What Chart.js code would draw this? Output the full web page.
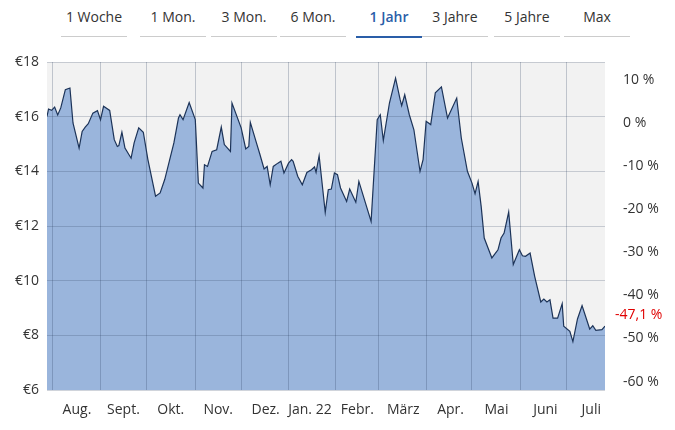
<!DOCTYPE html>
<html><head><meta charset="utf-8">
<script src="https://cdn.jsdelivr.net/npm/chart.js@4"></script>
<style>
body{margin:0;width:675px;height:430px;background:#fff;font-family:"Open Sans",sans-serif;overflow:hidden}
#tabs{position:absolute;top:0;left:0;width:675px;height:40px}
.tab{position:absolute;top:6px;height:30px;font-size:14px;color:#333;text-align:center;border-bottom:1px solid #ccc;line-height:22px}
.tab.act{color:#2a5ea8;font-weight:600;border-bottom:2px solid #2a5ea8}
#wrap{position:absolute;top:40px;left:0;width:675px;height:390px}
</style></head><body>
<div id="tabs"></div>
<div id="wrap"><canvas id="c"></canvas></div>
<script>
const tabLabels=["1 Woche","1 Mon.","3 Mon.","6 Mon.","1 Jahr","3 Jahre","5 Jahre","Max"];
const tabCenters=[94,173,244,313,389,455,527,597];
const activeTab="1 Jahr";
const days=[0,1,3,5,7,9,12,15,17,21,23,25,27,30,33,35,37,41,44,46,47,49,51,55,57,60,63,66,71,74,77,83,86,87,89,93,97,99,102,103,105,108,111,114,116,120,121,127,130,132,133,137,139,142,144,146,148,151,153,155,158,160,161,164,167,170,173,175,176,178,182,184,186,188,190,192,196,198,202,204,212,216,218,220,224,228,231,232,234,237,240,244,246,248,251,254,258,262,268,271,275,278,280,282,284,286,291,295,297,299,302,305,309,311,313,316,319,323,325,327,329,331,334,337,338,342,344,347,350,355,357,359,363,365];
const prices=[16.01,16.28,16.23,16.35,16.06,16.32,16.99,17.05,15.77,14.85,15.46,15.62,15.74,16.13,16.22,15.89,16.38,16.23,15.16,14.91,14.94,15.43,14.85,14.48,15.04,15.59,15.43,14.43,13.09,13.21,13.70,15.04,15.95,16.07,15.89,16.52,15.89,13.57,13.39,14.24,14.18,14.73,14.79,15.62,14.98,14.73,16.50,15.59,14.82,14.91,15.79,15.04,14.67,14.09,14.18,13.51,14.18,14.30,14.37,13.94,14.30,14.43,14.37,13.82,13.51,13.96,14.06,14.16,13.96,14.57,12.50,13.33,13.35,13.94,13.88,13.39,12.90,13.35,12.87,13.63,12.17,15.89,16.07,15.13,16.50,17.41,16.62,16.40,16.80,16.07,15.52,14.00,14.43,15.83,15.71,16.87,17.09,15.95,16.68,15.22,14.00,13.57,13.18,13.63,12.72,11.56,10.83,11.13,11.56,11.74,12.51,10.59,11.13,10.91,10.89,11.01,10.16,9.22,9.33,9.22,9.30,8.63,8.63,9.16,8.33,8.15,7.77,8.60,9.09,8.23,8.35,8.18,8.21,8.34];
const monthStarts=[3.6,35,65,97,127,158,189,217,248,278,310,340];
const monthLabelDays=[19.6,50,81,112,143,172,203,233,264,294,326,356];
const monthLabels=["Aug.","Sept.","Okt.","Nov.","Dez.","Jan. 22","Febr.","März","Apr.","Mai","Juni","Juli"];
const priceTicks=[6,8,10,12,14,16,18];
const pctTicks=[-60,-50,-40,-30,-20,-10,0,10];
const basePrice=15.77;
const lastPct=-47.1;

const tabs=document.getElementById('tabs');
tabLabels.forEach((t,i)=>{const d=document.createElement('div');d.className='tab'+(t===activeTab?' act':'');d.textContent=t;d.style.left=(tabCenters[i]-33)+'px';d.style.width='66px';tabs.appendChild(d);});

const FONT={family:"'Open Sans', sans-serif",size:14};
const bg={id:'bg',beforeDraw(c){const a=c.chartArea,x=c.ctx;x.save();x.fillStyle='#f2f2f2';x.fillRect(a.left,a.top,a.right-a.left,a.bottom-a.top);x.restore();}};
const redLbl={id:'redLbl',afterDraw(c){const s=c.scales.y2,x=c.ctx;x.save();x.font="14px 'Open Sans', sans-serif";x.fillStyle='#e00000';x.textBaseline='middle';x.fillText(String(lastPct).replace('.',',')+' %',s.left+10,s.getPixelForValue(lastPct)-11);x.restore();}};
const isStart=v=>monthStarts.includes(v);
new Chart(document.getElementById('c'),{
 type:'line',
 data:{datasets:[{data:days.map((d,i)=>({x:d,y:prices[i]})),borderColor:'#1c3358',borderWidth:1.2,backgroundColor:'#9ab5dc',fill:'origin',pointRadius:0,tension:0}]},
 options:{responsive:true,maintainAspectRatio:false,animation:false,
  layout:{padding:{top:22,left:0,right:0,bottom:0}},
  plugins:{legend:{display:false},tooltip:{enabled:false}},
  scales:{
   x:{type:'linear',min:0,max:365,border:{display:false},
     afterBuildTicks(s){s.ticks=monthStarts.concat(monthLabelDays).map(v=>({value:v}));},
     afterFit(s){s.height=40;},
     grid:{z:1,drawTicks:false,color:c=>isStart(c.tick&&c.tick.value)?'rgba(40,60,90,0.25)':'rgba(0,0,0,0)'},
     ticks:{autoSkip:false,maxRotation:0,padding:12,color:'#333',font:FONT,callback:v=>{const i=monthLabelDays.indexOf(v);return i<0?'':monthLabels[i];}}},
   y:{position:'left',min:6,max:18,border:{display:false},
     afterBuildTicks(s){s.ticks=priceTicks.map(v=>({value:v}));},
     afterFit(s){s.width=47;},
     grid:{z:1,drawTicks:false,color:'rgba(40,60,90,0.22)'},
     ticks:{padding:8,color:'#333',font:FONT,callback:v=>'€'+v}},
   y2:{position:'right',min:(6/basePrice-1)*100,max:(18/basePrice-1)*100,border:{display:false},
     afterBuildTicks(s){s.ticks=pctTicks.map(v=>({value:v}));},
     afterFit(s){s.width=70;},
     grid:{display:false},
     ticks:{padding:10,color:'#333',font:FONT,callback:v=>v+' %'}}
  }},
 plugins:[bg,redLbl]
});
</script></body></html>
